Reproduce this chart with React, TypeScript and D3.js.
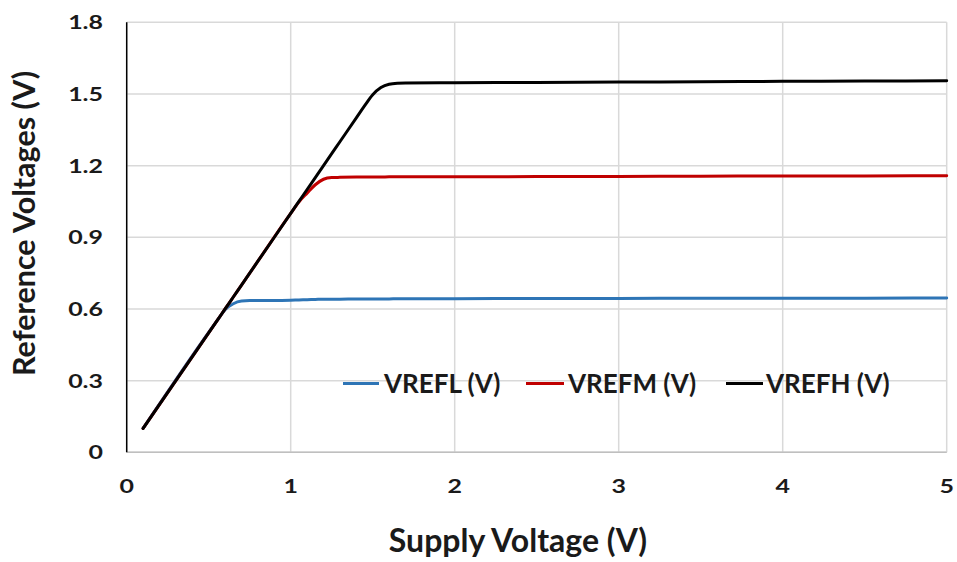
import React from "react";
import * as d3 from "d3";

const xValues = [0.1, 0.55, 0.6, 0.65, 0.7, 0.75, 0.8, 1, 1.05, 1.1, 1.15, 1.2, 1.25, 1.3, 1.4, 1.45, 1.5, 1.55, 1.6, 1.65, 1.7, 2, 2.5, 3, 3.5, 4, 4.5, 5];
const vrefL = [0.1, 0.55, 0.597, 0.622, 0.633, 0.635, 0.635, 0.637, 0.638, 0.639, 0.64, 0.641, 0.641, 0.641, 0.642, 0.642, 0.642, 0.642, 0.642, 0.643, 0.643, 0.643, 0.644, 0.644, 0.645, 0.645, 0.645, 0.646];
const vrefM = [0.1, 0.55, 0.6, 0.65, 0.7, 0.75, 0.8, 1.0, 1.048, 1.085, 1.12, 1.143, 1.15, 1.151, 1.152, 1.152, 1.152, 1.152, 1.153, 1.153, 1.153, 1.153, 1.154, 1.155, 1.156, 1.157, 1.157, 1.158];
const vrefH = [0.1, 0.55, 0.6, 0.65, 0.7, 0.75, 0.8, 1.0, 1.05, 1.1, 1.15, 1.2, 1.25, 1.3, 1.4, 1.45, 1.497, 1.527, 1.541, 1.545, 1.546, 1.547, 1.548, 1.55, 1.551, 1.553, 1.554, 1.555];

const seriesNames = ["VREFL (V)", "VREFM (V)", "VREFH (V)"];
const seriesColors = ["#2e75b6", "#c00000", "#000000"];
const seriesData = [vrefL, vrefM, vrefH];

const xTicks = [0, 1, 2, 3, 4, 5];
const yTicks = [0, 0.3, 0.6, 0.9, 1.2, 1.5, 1.8];

const xTitle = "Supply Voltage (V)";
const yTitle = "Reference Voltages (V)";

const W = 957;
const H = 562;
const FONT = "Lato, Carlito, Calibri, 'Open Sans', sans-serif";
const TEXT = "#1a1a1a";

export default function App() {
  const x = d3.scaleLinear().domain([0, 5]).range([126.7, 946.7]);
  const y = d3.scaleLinear().domain([0, 1.8]).range([452.3, 22.3]);
  const line = d3
    .line<number>()
    .x((_, i) => x(xValues[i]))
    .y((d) => y(d))
    .curve(d3.curveMonotoneX);

  const legendLineX = [343, 526, 726];
  const legendLineW = [36, 38, 37];
  const legendTextX = [384, 568, 766];
  const legendY = 383.6;
  const tickScaleX = 1.28;

  return (
    <svg width={W} height={H} style={{ position: "absolute", left: 0, top: 0, background: "#fff" }}>
      <rect x={0} y={0} width={W} height={H} fill="#fff" />
      {/* grid */}
      {yTicks.map((t) => (
        <line key={"gy" + t} x1={x(0)} x2={x(5)} y1={y(t)} y2={y(t)} stroke="#d9d9d9" strokeWidth={1.5} />
      ))}
      {xTicks.map((t) => (
        <line key={"gx" + t} x1={x(t)} x2={x(t)} y1={y(0)} y2={y(1.8)} stroke="#d9d9d9" strokeWidth={1.5} />
      ))}
      {/* axes */}
      <line x1={x(0)} x2={x(5)} y1={y(0)} y2={y(0)} stroke="#bfbfbf" strokeWidth={1.5} />
      <line x1={x(0)} x2={x(0)} y1={y(0)} y2={y(1.8)} stroke="#000" strokeWidth={1.5} />
      {/* tick labels */}
      {yTicks.map((t) => (
        <text
          key={"ty" + t}
          transform={`translate(103,${y(t) + 7}) scale(${tickScaleX},1)`}
          textAnchor="end"
          fontFamily={FONT}
          fontWeight="bold"
          fontSize={19.5}
          fill={TEXT}
        >
          {d3.format("~g")(t)}
        </text>
      ))}
      {xTicks.map((t) => (
        <text
          key={"tx" + t}
          transform={`translate(${x(t)},493.3) scale(${tickScaleX},1)`}
          textAnchor="middle"
          fontFamily={FONT}
          fontWeight="bold"
          fontSize={19.5}
          fill={TEXT}
        >
          {t}
        </text>
      ))}
      {/* series */}
      {seriesData.map((s, i) => (
        <path key={"s" + i} d={line(s) || ""} fill="none" stroke={seriesColors[i]} strokeWidth={3} strokeLinejoin="round" strokeLinecap="round" />
      ))}
      {/* legend */}
      {seriesNames.map((n, i) => (
        <g key={"lg" + i}>
          <line x1={legendLineX[i]} x2={legendLineX[i] + legendLineW[i]} y1={legendY} y2={legendY} stroke={seriesColors[i]} strokeWidth={3} />
          <text x={legendTextX[i]} y={legendY + 9.3} fontFamily={FONT} fontWeight="bold" fontSize={26} fill={TEXT}>
            {n}
          </text>
        </g>
      ))}
      {/* axis titles */}
      <text x={518} y={552} textAnchor="middle" fontFamily={FONT} fontWeight="bold" fontSize={32} fill={TEXT}>
        {xTitle}
      </text>
      <text transform={`translate(35,223.5) rotate(-90)`} textAnchor="middle" fontFamily={FONT} fontWeight="bold" fontSize={30.5} fill={TEXT}>
        {yTitle}
      </text>
    </svg>
  );
}
